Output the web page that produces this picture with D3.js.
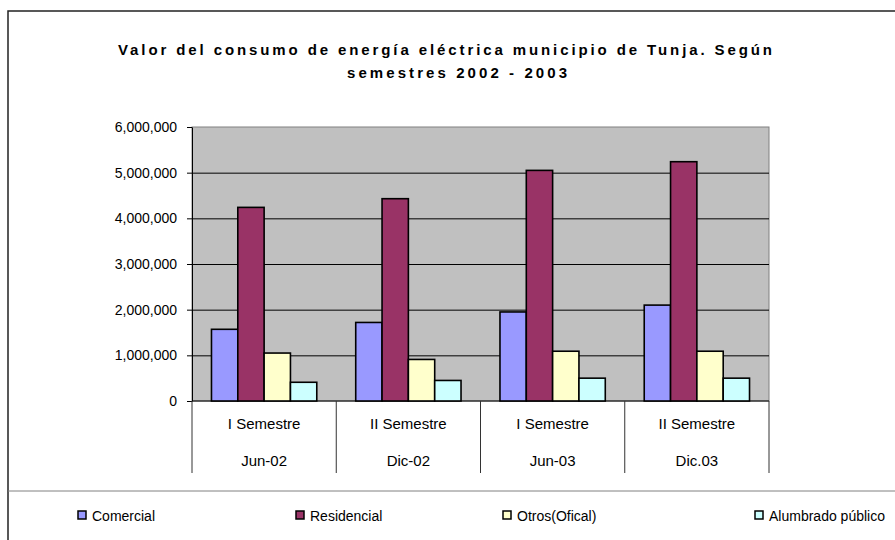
<!DOCTYPE html>
<html>
<head>
<meta charset="utf-8">
<script src="https://cdn.jsdelivr.net/npm/d3@7"></script>
<style>
    body { margin: 0; background: #fff; }
    svg { font-family: Arial, "Liberation Sans", sans-serif; }
</style>
</head>
<body>
<svg id="svg_consumo" width="895" height="540"></svg>
<script>
// Valor del consumo de energia - Tunja

const semestres = ["I Semestre", "II Semestre", "I Semestre", "II Semestre"];
const periodos = ["Jun-02", "Dic-02", "Jun-03", "Dic.03"];
const series = ["Comercial", "Residencial", "Otros(Ofical)", "Alumbrado público"];
const colores = ["#9999FF", "#993366", "#FFFFCC", "#CCFFFF"];

const comercial = [1570000, 1720000, 1950000, 2100000];
const residencial = [4240000, 4430000, 5050000, 5240000];
const otros = [1050000, 910000, 1090000, 1090000];
const alumbrado = [410000, 450000, 500000, 500000];

const yTicks = [0, 1000000, 2000000, 3000000, 4000000, 5000000, 6000000];
const titulo = ["Valor del consumo de energía eléctrica municipio de Tunja. Según",
                "semestres 2002 - 2003"];

/**
 * Draws the grouped bar chart (Excel look) of the energy consumption
 */
class ConsumoChart {

    constructor() {
        this.svg = d3.select("#svg_consumo");
        this.plot = { left: 192, right: 769, top: 127, bottom: 401 };

        // one row per semester, values in the same order as series
        let valores = [comercial, residencial, otros, alumbrado];
        this.data = periodos.map((p, i) => ({
            periodo: p,
            semestre: semestres[i],
            values: series.map((s, j) => ({ serie: s, color: colores[j], value: valores[j][i] }))
        }));

        this.x0 = d3.scaleBand()
            .domain(periodos)
            .range([this.plot.left, this.plot.right]);

        let bw = this.x0.bandwidth();
        this.x1 = d3.scaleBand()
            .domain(series)
            .range([bw * 0.135, bw * 0.865]);

        this.yScale = d3.scaleLinear()
            .domain([0, 6000000])
            .range([this.plot.bottom, this.plot.top]);

        this.drawFrame();
        this.drawAxes();
        this.drawBars();
        this.drawLegend();
    }

    drawFrame() {
        // chart area border (runs off the right side of the picture)
        this.svg.append("rect")
            .attr("x", 8).attr("y", 11)
            .attr("width", 1000).attr("height", 600)
            .attr("fill", "#fff")
            .attr("stroke", "#222")
            .attr("stroke-width", 1.5);

        let t = this.svg.append("g").attr("font-weight", "bold").attr("font-size", 15).attr("fill", "#000");
        t.append("text")
            .attr("x", 118).attr("y", 55)
            .attr("textLength", 654).attr("lengthAdjust", "spacing")
            .text(titulo[0]);
        t.append("text")
            .attr("x", 347).attr("y", 78)
            .attr("textLength", 220).attr("lengthAdjust", "spacing")
            .text(titulo[1]);

        this.svg.append("rect")
            .attr("x", this.plot.left).attr("y", this.plot.top)
            .attr("width", this.plot.right - this.plot.left)
            .attr("height", this.plot.bottom - this.plot.top)
            .attr("fill", "#C0C0C0")
            .attr("stroke", "#808080");
    }

    drawAxes() {
        let w = this.plot.right - this.plot.left;

        // gridlines
        let grid = this.svg.append("g")
            .attr("transform", "translate(" + this.plot.left + ",0)")
            .call(d3.axisLeft(this.yScale).tickValues(yTicks.slice(1, 6)).tickSize(-w).tickFormat(""));
        grid.select(".domain").remove();
        grid.selectAll("line").attr("stroke", "#000");

        let yAxis = this.svg.append("g")
            .attr("id", "y-axis")
            .attr("transform", "translate(" + this.plot.left + ",0)")
            .call(d3.axisLeft(this.yScale)
                .tickValues(yTicks)
                .tickFormat(d3.format(","))
                .tickSize(5)
                .tickPadding(10)
                .tickSizeOuter(0));
        yAxis.select(".domain").attr("stroke", "#000");
        yAxis.selectAll("line").attr("stroke", "#000");
        yAxis.selectAll("text")
            .attr("font-size", 14)
            .attr("fill", "#000")
            .attr("font-family", "Arial, 'Liberation Sans', sans-serif");

        // category axis drawn like a table
        let xg = this.svg.append("g").attr("id", "x-axis");
        xg.append("line")
            .attr("x1", this.plot.left).attr("x2", this.plot.right)
            .attr("y1", this.plot.bottom).attr("y2", this.plot.bottom)
            .attr("stroke", "#000");

        let bounds = periodos.map(p => this.x0(p)).concat([this.plot.right]);
        xg.selectAll(".divider")
            .data(bounds)
            .join("line")
            .attr("class", "divider")
            .attr("x1", d => d).attr("x2", d => d)
            .attr("y1", this.plot.bottom).attr("y2", 473)
            .attr("stroke", "#333");

        let bw = this.x0.bandwidth();
        xg.selectAll(".lbl-sem")
            .data(this.data)
            .join("text")
            .attr("class", "lbl-sem")
            .attr("x", d => this.x0(d.periodo) + bw / 2)
            .attr("y", 429)
            .attr("text-anchor", "middle")
            .attr("font-size", 15)
            .text(d => d.semestre);

        xg.selectAll(".lbl-per")
            .data(this.data)
            .join("text")
            .attr("class", "lbl-per")
            .attr("x", d => this.x0(d.periodo) + bw / 2)
            .attr("y", 466)
            .attr("text-anchor", "middle")
            .attr("font-size", 15)
            .text(d => d.periodo);
    }

    drawBars() {
        let groups = this.svg.append("g")
            .selectAll("g")
            .data(this.data)
            .join("g")
            .attr("transform", d => "translate(" + this.x0(d.periodo) + ",0)");

        groups.selectAll("rect")
            .data(d => d.values)
            .join("rect")
            .attr("x", d => this.x1(d.serie))
            .attr("y", d => this.yScale(d.value))
            .attr("width", this.x1.bandwidth())
            .attr("height", d => this.plot.bottom - this.yScale(d.value))
            .attr("fill", d => d.color)
            .attr("stroke", "#000")
            .attr("stroke-width", 1.6);
    }

    drawLegend() {
        // legend box top line
        this.svg.append("line")
            .attr("x1", 8).attr("x2", 895)
            .attr("y1", 491).attr("y2", 491)
            .attr("stroke", "#808080");

        let legendX = [78, 296, 503, 755];
        let items = this.svg.append("g")
            .selectAll("g")
            .data(series)
            .join("g")
            .attr("transform", (d, i) => "translate(" + legendX[i] + ",511)");

        items.append("rect")
            .attr("width", 8).attr("height", 8)
            .attr("fill", (d, i) => colores[i])
            .attr("stroke", "#000")
            .attr("stroke-width", 1.5);

        items.append("text")
            .attr("x", 14).attr("y", 10)
            .attr("font-size", 14)
            .text(d => d);
    }
}

new ConsumoChart();
</script>
</body>
</html>
